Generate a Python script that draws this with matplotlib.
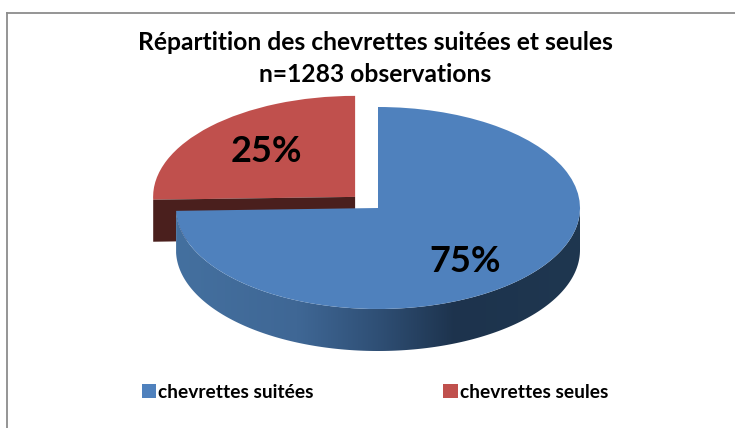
import numpy as np
import matplotlib
matplotlib.use("Agg")
import matplotlib.pyplot as plt
from matplotlib.colors import LinearSegmentedColormap
from matplotlib.patches import Polygon
from matplotlib.lines import Line2D

labels = ["chevrettes suitées", "chevrettes seules"]
values = [74.55, 25.45]
colors = ["#4F81BD", "#C0504D"]
title = "Répartition des chevrettes suitées et seules\nn=1283 observations"

W, H = 735, 428
CX, CY, RX, RY = 378.0, 208.0, 202.0, 101.0
DEPTH = 42.0 / RY
EXPLODE = 0.158
RED_SIDE = "#4A1F1D"
FONT = "Lato"

def px(x, y):
    """pixel of the reference -> unit-pie data coordinates"""
    return (x - CX) / RX, (CY - y) / RY

fig = plt.figure(figsize=(W / 100, H / 100), dpi=100, facecolor="white")
ax = fig.add_axes([0, 0, 1, 1])

wedges, _ = ax.pie(values, colors=colors, startangle=90, counterclock=False,
                   explode=[0, EXPLODE], radius=1.0, wedgeprops=dict(linewidth=0))
blue, red = wedges
blue.set_zorder(6)
red.set_zorder(2)

# red cut face: straight radius of the exploded slice, extruded downward
cx_r, cy_r = red.center
a_r = np.deg2rad(red.theta2)
ax.add_patch(Polygon([(cx_r, cy_r), (cx_r + np.cos(a_r), cy_r + np.sin(a_r)),
                      (cx_r + np.cos(a_r), cy_r + np.sin(a_r) - DEPTH),
                      (cx_r, cy_r - DEPTH)],
                     closed=True, fc=RED_SIDE, ec="none", zorder=3))

# blue rim: lower half of the ellipse, from the slice's left end to the right end
t1 = blue.theta1 if blue.theta1 > 0 else blue.theta1 + 360
ang = np.deg2rad(np.linspace(t1, 360, 200))
xa, ya = np.cos(ang), np.sin(ang)
rim = np.column_stack([np.r_[xa, xa[::-1]], np.r_[ya, ya[::-1] - DEPTH]])
rim_patch = Polygon(rim, closed=True, fc="white", ec="none", zorder=4)
ax.add_patch(rim_patch)
cmap = LinearSegmentedColormap.from_list(
    "rim", [(0, "#44709F"), (0.30, "#3F6795"), (0.50, "#2F4F75"), (0.69, "#1D334D"), (1, "#1F3750")])
im = ax.imshow(np.linspace(0, 1, 256)[None, :], extent=(-1, 1, -1.6, 0.2),
               cmap=cmap, aspect="auto", zorder=5, interpolation="bilinear")
im.set_clip_path(rim_patch)

ax.set_aspect("auto")
x0, y0 = px(0, H)
x1, y1 = px(W, 0)
ax.set_xlim(x0, x1)
ax.set_ylim(y0, y1)
ax.set_axis_off()

# percentage labels
for val, (x, y) in zip(values, [(465, 261.5), (266, 151.5)]):
    dx, dy = px(x, y)
    ax.text(dx, dy, f"{val:.0f}%", ha="center", va="center", fontsize=26,
            fontweight="bold", family=FONT, color="black", zorder=10)

# title
tx, ty = px(375, 58.5)
ax.text(tx, ty, title, ha="center", va="center", fontsize=17.7, fontweight="bold",
        family=FONT, color="black", linespacing=1.45, zorder=10)

# legend
leg = ax.legend(wedges, labels, loc="center", bbox_to_anchor=(375 / W, 1 - 392 / H),
                ncols=2, frameon=False, handlelength=0.75, handleheight=0.75,
                handletextpad=0.1, columnspacing=6.75,
                prop=dict(family=FONT, weight="bold", size=13.8))

# chart frame: top and left border
fig.add_artist(Line2D([6.5 / W, 1], [1 - 12.5 / H] * 2, color="#8C8C8C", lw=1.3,
                      transform=fig.transFigure))
fig.add_artist(Line2D([6.5 / W] * 2, [0, 1 - 12.5 / H], color="#8C8C8C", lw=1.3,
                      transform=fig.transFigure))

fig.savefig("out.png", dpi=100)
